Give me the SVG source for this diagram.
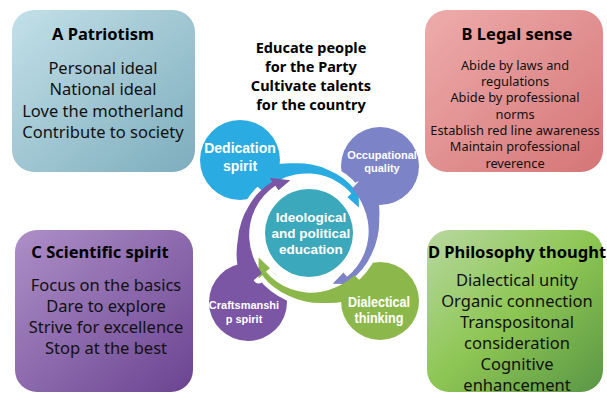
<svg xmlns="http://www.w3.org/2000/svg" width="607" height="395" viewBox="0 0 607 395">
  <defs>
    <style>
      .ttl{font-family:"Noto Sans","Open Sans",sans-serif;font-weight:700;font-size:16.5px;fill:#000;text-anchor:middle}
      .txt{font-family:"Noto Sans","Open Sans",sans-serif;font-size:16.5px;fill:#111;text-anchor:middle}
      .sm{font-size:12.8px}
      .hd{font-family:"Noto Sans","Open Sans",sans-serif;font-weight:700;font-size:14.5px;fill:#000;text-anchor:middle}
      .lbl{font-family:"Liberation Sans",Arial,sans-serif;font-weight:700;fill:#fff;text-anchor:middle}
      .cut{fill:#000;stroke:#000;stroke-width:10;stroke-linejoin:round}
    </style>
    <linearGradient id="gA" x1="0" y1="0" x2="1" y2="1">
      <stop offset="0" stop-color="#c3e0e8"/>
      <stop offset="1" stop-color="#7dadbd"/>
    </linearGradient>
    <linearGradient id="gB" x1="0" y1="0" x2="1" y2="1">
      <stop offset="0" stop-color="#eeacab"/>
      <stop offset="1" stop-color="#d57577"/>
    </linearGradient>
    <linearGradient id="gC" x1="0" y1="0" x2="1" y2="1">
      <stop offset="0" stop-color="#ae8fc8"/>
      <stop offset="1" stop-color="#6b4491"/>
    </linearGradient>
    <linearGradient id="gD" x1="0" y1="0" x2="1" y2="1">
      <stop offset="0" stop-color="#b8d8a0"/>
      <stop offset="0.5" stop-color="#8dc653"/>
      <stop offset="1" stop-color="#5a9646"/>
    </linearGradient>
    <!-- tapered swirl arrow, centred on the hub, starting along +x -->
    <path id="swoosh" d="M85.67,-7.5 A81.5,81.5 0 0 1 74.37,19.93 A74,74 0 0 1 61.92,35.75 A70,70 0 0 1 48.44,48.44 A67,67 0 0 1 33,57.16 A65,65 0 0 1 16.69,62.3 A64,64 0 0 1 0,63 L0,68 L-15.44,53.83 L0,52.5 L0,58 A58.2,58.2 0 0 0 15.14,56.51 A58.7,58.7 0 0 0 29.5,51.09 A59.2,59.2 0 0 0 42.07,42.07 A59.7,59.7 0 0 0 51.96,30 A60.2,60.2 0 0 0 58.44,15.66 A61,61 0 0 0 61.76,-5.41 Z"/>
    <!-- each circle is notched by the arrow that lands next to it -->
    <mask id="cutDed" maskUnits="userSpaceOnUse" x="0" y="0" width="607" height="395">
      <rect width="607" height="395" fill="#fff"/>
      <use href="#swoosh" class="cut" transform="translate(309 233) rotate(144.5)"/>
    </mask>
    <mask id="cutOcc" maskUnits="userSpaceOnUse" x="0" y="0" width="607" height="395">
      <rect width="607" height="395" fill="#fff"/>
      <use href="#swoosh" class="cut" transform="translate(309 233) rotate(-133)"/>
    </mask>
    <mask id="cutDia" maskUnits="userSpaceOnUse" x="0" y="0" width="607" height="395">
      <rect width="607" height="395" fill="#fff"/>
      <use href="#swoosh" class="cut" transform="translate(309 233) rotate(-41)"/>
    </mask>
    <mask id="cutCra" maskUnits="userSpaceOnUse" x="0" y="0" width="607" height="395">
      <rect width="607" height="395" fill="#fff"/>
      <use href="#swoosh" class="cut" transform="translate(309 233) rotate(48)"/>
    </mask>
  </defs>

  <rect width="607" height="395" fill="#fff"/>

  <g id="box-a">
    <rect x="12" y="10" width="183" height="162" rx="22" fill="url(#gA)"/>
    <text class="ttl" x="103" y="40">A Patriotism</text>
    <text class="txt" x="103" y="73.5">Personal ideal</text>
    <text class="txt" x="103" y="95">National ideal</text>
    <text class="txt" x="103" y="116.5">Love the motherland</text>
    <text class="txt" x="103" y="138">Contribute to society</text>
  </g>

  <g id="box-b">
    <rect x="425" y="10" width="178" height="162" rx="22" fill="url(#gB)"/>
    <text class="ttl" x="517" y="40">B Legal sense</text>
    <text class="txt sm" x="515" y="69.5">Abide by laws and</text>
    <text class="txt sm" x="515" y="85.8">regulations</text>
    <text class="txt sm" x="515" y="102.2">Abide by professional</text>
    <text class="txt sm" x="515" y="118.5">norms</text>
    <text class="txt sm" x="515" y="134.8">Establish red line awareness</text>
    <text class="txt sm" x="515" y="151.2">Maintain professional</text>
    <text class="txt sm" x="515" y="167.5">reverence</text>
  </g>

  <g id="box-c">
    <rect x="15" y="230" width="178" height="162" rx="22" fill="url(#gC)"/>
    <text class="ttl" x="100" y="258">C Scientific spirit</text>
    <text class="txt" x="106" y="291">Focus on the basics</text>
    <text class="txt" x="106" y="312">Dare to explore</text>
    <text class="txt" x="106" y="333">Strive for excellence</text>
    <text class="txt" x="106" y="354">Stop at the best</text>
  </g>

  <g id="box-d">
    <rect x="427" y="230" width="176" height="162" rx="22" fill="url(#gD)"/>
    <text class="ttl" x="517" y="258">D Philosophy thought</text>
    <text class="txt" x="517" y="286" font-size="16">Dialectical unity</text>
    <text class="txt" x="517" y="307" font-size="16">Organic connection</text>
    <text class="txt" x="517" y="328" font-size="16">Transpositonal</text>
    <text class="txt" x="517" y="349" font-size="16">consideration</text>
    <text class="txt" x="517" y="370" font-size="16">Cognitive</text>
    <text class="txt" x="517" y="391" font-size="16">enhancement</text>
  </g>

  <g id="motto">
    <text class="hd" x="311" y="53">Educate people</text>
    <text class="hd" x="311" y="72">for the Party</text>
    <text class="hd" x="311" y="91">Cultivate talents</text>
    <text class="hd" x="311" y="109.5">for the country</text>
  </g>

  <g id="connectors">
    <use href="#swoosh" fill="#2aace2" transform="translate(309 233) rotate(-133)"/>
    <use href="#swoosh" fill="#7c83c6" transform="translate(309 233) rotate(-41)"/>
    <use href="#swoosh" fill="#8cb84b" transform="translate(309 233) rotate(48)"/>
    <use href="#swoosh" fill="#7b56a5" transform="translate(309 233) rotate(144.5)"/>
  </g>

  <g id="dedication-spirit">
    <circle cx="240" cy="160" r="40" fill="#2aace2" mask="url(#cutDed)"/>
    <text class="lbl" x="240" y="153" font-size="14">Dedication</text>
    <text class="lbl" x="240" y="171" font-size="14">spirit</text>
  </g>

  <g id="occupational-quality">
    <circle cx="380" cy="166" r="39" fill="#7c83c6" mask="url(#cutOcc)"/>
    <text class="lbl" x="382" y="158.5" font-size="11">Occupational</text>
    <text class="lbl" x="382" y="172" font-size="11">quality</text>
  </g>

  <g id="dialectical-thinking">
    <circle cx="380" cy="301" r="39" fill="#8cb84b" mask="url(#cutDia)"/>
    <text class="lbl" x="379" y="307" font-size="14" textLength="62" lengthAdjust="spacingAndGlyphs">Dialectical</text>
    <text class="lbl" x="379" y="323" font-size="14" textLength="49" lengthAdjust="spacingAndGlyphs">thinking</text>
  </g>

  <g id="craftsmanship-spirit">
    <circle cx="248" cy="302" r="39" fill="#7b56a5" mask="url(#cutCra)"/>
    <text class="lbl" x="244" y="309" font-size="11">Craftsmanshi</text>
    <text class="lbl" x="244" y="322.5" font-size="11">p spirit</text>
  </g>

  <g id="ideological-education">
    <circle cx="309" cy="233" r="44" fill="#3ba8bc"/>
    <text class="lbl" x="311" y="221.5" font-size="13.5">Ideological</text>
    <text class="lbl" x="311" y="238" font-size="13.5">and political</text>
    <text class="lbl" x="311" y="253.5" font-size="13.5">education</text>
  </g>
</svg>
